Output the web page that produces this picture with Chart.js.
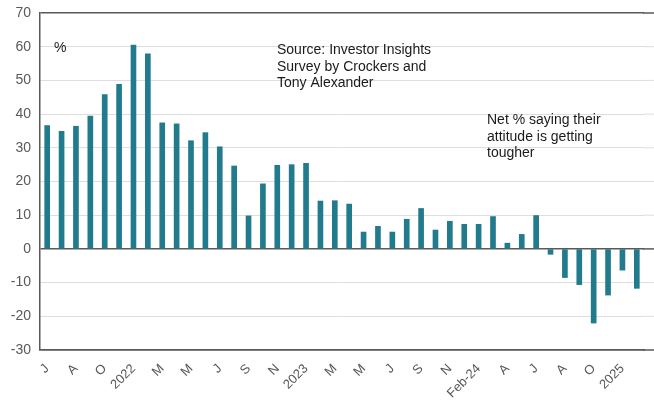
<!DOCTYPE html>
<html>
<head>
<meta charset="utf-8">
<script src="https://cdn.jsdelivr.net/npm/chart.js@4"></script>
<style>
  html, body { margin: 0; padding: 0; background: #fff; }
  #wrap { width: 654px; height: 402px; position: relative; }
</style>
</head>
<body>
<div id="wrap"><canvas id="grafico"></canvas></div>
<script>
// one bar per survey, label shown every second bar
const rotulos = ['J', '', 'A', '', 'O', '', '2022', '', 'M', '', 'M', '', 'J', '', 'S', '', 'N', '',
    '2023', '', 'M', '', 'M', '', 'J', '', 'S', '', 'N', '', 'Feb-24', '', 'A', '', 'J', '', 'A', '',
    'O', '', '2025', ''];
const netoPct = [36.6, 34.9, 36.4, 39.4, 45.8, 48.8, 60.5, 57.9, 37.4, 37.1, 32.1, 34.5, 30.3, 24.6,
    9.8, 19.3, 24.8, 25.0, 25.4, 14.2, 14.3, 13.3, 5.0, 6.7, 5.0, 8.8, 12.0, 5.6, 8.2, 7.3, 7.3, 9.6,
    1.7, 4.3, 9.9, -1.6, -8.5, -10.6, -22.0, -13.7, -6.3, -11.7];
const eixoY = { min: -30, max: 70, passo: 10 };

const notas = [
    { linhas: ['%'], x: 54, y: 48 },
    { linhas: ['Source: Investor Insights', 'Survey by Crockers and', 'Tony Alexander'], x: 277, y: 50 },
    { linhas: ['Net % saying their', 'attitude is getting', 'tougher'], x: 487, y: 120 }
];

const escuro = '#595959';
const claro = '#dedede';

// texts and the gridlines that run past the last bar to the edge
const extras = {
    id: 'extras',
    afterDraw(chart) {
        const ctx = chart.ctx;
        const area = chart.chartArea;
        const y = chart.scales.y;
        ctx.save();
        y.ticks.forEach(t => {
            const py = y.getPixelForValue(t.value);
            const forte = t.value === 0 || t.value === eixoY.min || t.value === eixoY.max;
            ctx.strokeStyle = forte ? escuro : claro;
            ctx.lineWidth = forte ? 1.5 : 1;
            ctx.beginPath();
            ctx.moveTo(area.right - 1, py);
            ctx.lineTo(chart.width, py);
            ctx.stroke();
        });
        ctx.fillStyle = '#1a1a1a';
        ctx.font = '14px "Liberation Sans", Arial, sans-serif';
        ctx.textBaseline = 'middle';
        notas.forEach(n => {
            n.linhas.forEach((l, i) => ctx.fillText(l, n.x, n.y + i * 16.7));
        });
        ctx.restore();
    }
};

new Chart(document.getElementById('grafico'), {
    type: 'bar',
    data: {
        labels: rotulos,
        datasets: [{
            data: netoPct,
            backgroundColor: '#217b8c',
            barThickness: 5
        }]
    },
    options: {
        responsive: true,
        maintainAspectRatio: false,
        animation: false,
        layout: { padding: { top: 13, right: 10, left: 0, bottom: 0 } },
        plugins: { legend: { display: false }, tooltip: { enabled: false } },
        scales: {
            x: {
                grid: { display: false },
                border: { color: escuro, width: 1.5 },
                ticks: {
                    autoSkip: false,
                    minRotation: 45,
                    maxRotation: 45,
                    color: escuro,
                    padding: 3,
                    font: { family: '"Liberation Sans", Arial, sans-serif', size: 13 }
                },
                afterFit(s) { s.height = 52; }
            },
            y: {
                min: eixoY.min,
                max: eixoY.max,
                grid: {
                    color: c => (c.tick.value === 0 || c.tick.value === eixoY.min || c.tick.value === eixoY.max) ? escuro : claro,
                    lineWidth: c => (c.tick.value === 0 || c.tick.value === eixoY.min || c.tick.value === eixoY.max) ? 1.5 : 1,
                    drawTicks: false
                },
                border: { color: escuro, width: 1.5 },
                ticks: {
                    stepSize: eixoY.passo,
                    color: escuro,
                    padding: 9,
                    font: { family: '"Liberation Sans", Arial, sans-serif', size: 14 }
                },
                afterFit(s) { s.width = 40; s.paddingTop = 0; s.paddingBottom = 0; }
            }
        }
    },
    plugins: [extras]
});
</script>
</body>
</html>
